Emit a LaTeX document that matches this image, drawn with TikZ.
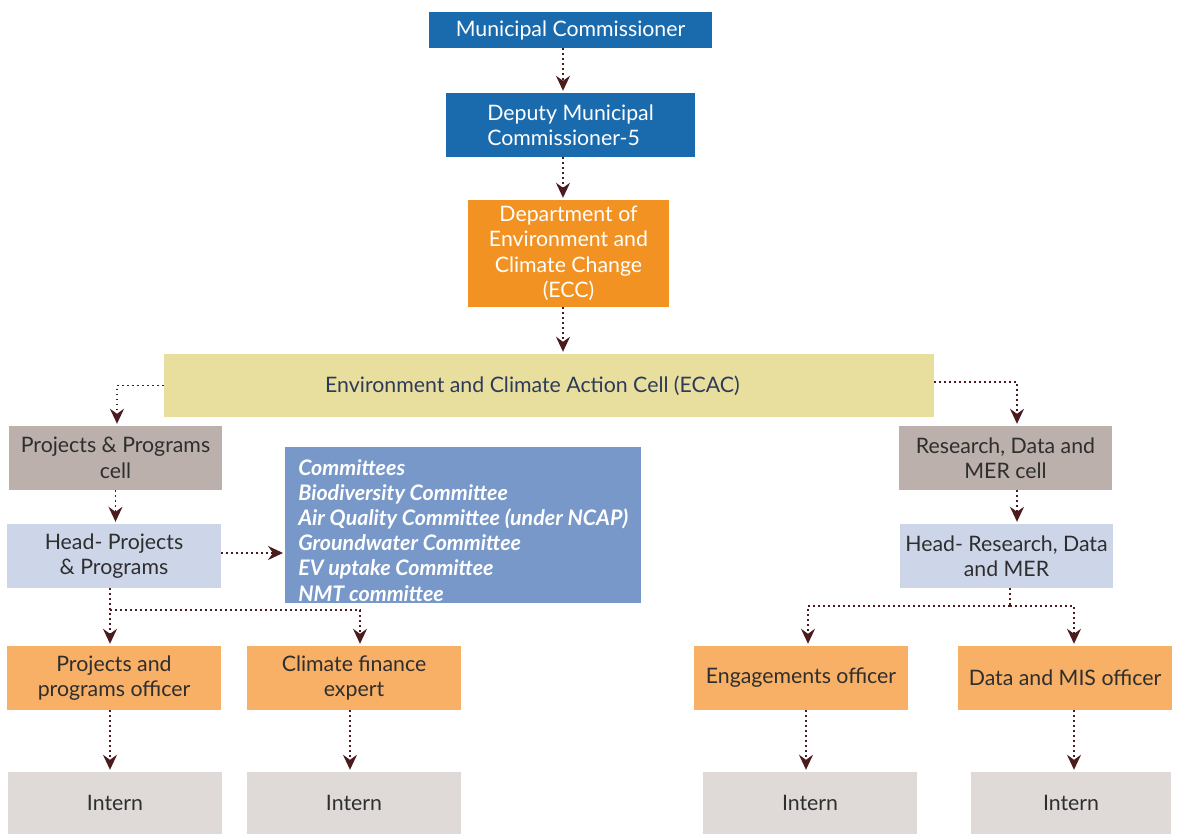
\documentclass[tikz,border=0pt]{standalone}
\usepackage{fontspec}
\setmainfont{Lato}
\usetikzlibrary{arrows.meta,calc}

\definecolor{mcblue}{HTML}{1A6AAE}
\definecolor{eccorange}{HTML}{F29222}
\definecolor{ecacyellow}{HTML}{E8DF9E}
\definecolor{cellbrown}{HTML}{BBB0AB}
\definecolor{headblue}{HTML}{CDD6E9}
\definecolor{commblue}{HTML}{7898C9}
\definecolor{officerorange}{HTML}{F7B066}
\definecolor{interngrey}{HTML}{DFDAD8}
\definecolor{arrowred}{HTML}{4B1B1E}
\definecolor{darktext}{HTML}{2E2E2E}
\definecolor{ecactext}{HTML}{2E3A59}

\begin{document}
\begin{tikzpicture}[x=1pt,y=-1pt,
	box/.style={inner sep=0pt, align=center, text=darktext, font=\fontsize{21.3}{25.5}\selectfont},
	wire/.style={draw=arrowred, line width=1.7pt, dash pattern=on 1.7pt off 3.3pt},
	link/.style={wire, -{Stealth[length=15pt,width=14pt,inset=5pt]}, shorten >=2pt}]
	\useasboundingbox (0,0) rectangle (1178,834);

	% top of the chain
	\node[box, fill=mcblue, text=white, minimum width=283pt, minimum height=36pt] (mc) at (570.5,30) {Municipal Commissioner};
	\node[box, fill=mcblue, text=white, minimum width=249pt, minimum height=64pt, align=left] (dmc) at (570.5,125) {Deputy Municipal\\Commissioner-5};
	\node[box, fill=eccorange, text=white, minimum width=201pt, minimum height=107pt] (ecc) at (568.5,253.5) {Department of\\Environment and\\Climate Change\\(ECC)};
	\node[box, fill=ecacyellow, text=ecactext, minimum width=770pt, minimum height=63pt] (ecac) at (549,385.5) {Environment and Climate Action Cell (ECAC)\hspace*{33pt}};

	% the two cells
	\node[box, fill=cellbrown, minimum width=213pt, minimum height=64pt] (ppc) at (115.5,458) {Projects \& Programs\\cell};
	\node[box, fill=headblue, minimum width=214pt, minimum height=64pt] (hpp) at (114,556) {Head- Projects\\\& Programs};
	\node[box, fill=cellbrown, minimum width=213pt, minimum height=64pt] (rdc) at (1005.5,458) {Research, Data and\\MER cell};
	\node[box, fill=headblue, minimum width=213pt, minimum height=64pt] (hrd) at (1006.5,556) {Head- Research, Data\\and MER};

	\node[box, fill=commblue, text=white, align=left, anchor=north west, minimum width=356pt, minimum height=156pt,
		font=\fontsize{21.4}{25.2}\selectfont\bfseries\itshape] (com) at (285,447)
		{\rule{0pt}{26pt}Committees\\Biodiversity Committee\\Air Quality Committee (under NCAP)\\Groundwater Committee\\EV uptake Committee\\NMT committee};

	% officers
	\node[box, fill=officerorange, minimum width=214pt, minimum height=64pt] (ppo) at (114,678) {Projects and\\programs officer};
	\node[box, fill=officerorange, minimum width=214pt, minimum height=64pt] (cfe) at (354,678) {Climate finance\\expert};
	\node[box, fill=officerorange, minimum width=214pt, minimum height=64pt] (eng) at (801,678) {Engagements officer};
	\node[box, fill=officerorange, minimum width=214pt, minimum height=64pt] (mis) at (1065,678) {Data and MIS officer};

	% interns
	\node[box, fill=interngrey, minimum width=214pt, minimum height=62pt] (in1) at (115,803) {Intern};
	\node[box, fill=interngrey, minimum width=214pt, minimum height=62pt] (in2) at (354,803) {Intern};
	\node[box, fill=interngrey, minimum width=214pt, minimum height=62pt] (in3) at (810,803) {Intern};
	\node[box, fill=interngrey, minimum width=200pt, minimum height=62pt] (in4) at (1071,803) {Intern};

	% connectors
	\coordinate (spine) at (563,0);
	\draw[link] (mc.south -| spine) -- (dmc.north -| spine);
	\draw[link] (dmc.south -| spine) -- (ecc.north -| spine);
	\draw[link] (ecc.south -| spine) -- (ecac.north -| spine);

	\draw[link] (ecac.west) -| ([xshift=1.5pt]ppc.north);
	\draw[link] ([yshift=3.5pt]ecac.east) -| ([xshift=11.5pt]rdc.north);

	\draw[link] (ppc.south) -- (ppc.south |- hpp.north);
	\draw[link] ([yshift=3pt]hpp.east) -- ([yshift=3pt]hpp.east -| com.west);
	\draw[link] ([xshift=-4pt]hpp.south) -- ([xshift=-4pt]hpp.south |- ppo.north);
	\draw[link] ([xshift=-4pt]hpp.south) ++(0,22) -| ([xshift=6pt]cfe.north);

	\draw[link] ([xshift=11.5pt]rdc.south) -- ([xshift=11.5pt]rdc.south |- hrd.north);
	\draw[wire] ([xshift=3.5pt]hrd.south) -- ++(0,18) coordinate (rdj);
	\draw[link] (rdj) -| ([xshift=7pt]eng.north);
	\draw[link] (rdj) -| ([xshift=9pt]mis.north);

	\draw[link] ([xshift=-4pt]ppo.south) -- ([xshift=-4pt]ppo.south |- in1.north);
	\draw[link] ([xshift=-4pt]cfe.south) -- ([xshift=-4pt]cfe.south |- in2.north);
	\draw[link] ([xshift=5pt]eng.south) -- ([xshift=5pt]eng.south |- in3.north);
	\draw[link] ([xshift=9pt]mis.south) -- ([xshift=9pt]mis.south |- in4.north);
\end{tikzpicture}
\end{document}
